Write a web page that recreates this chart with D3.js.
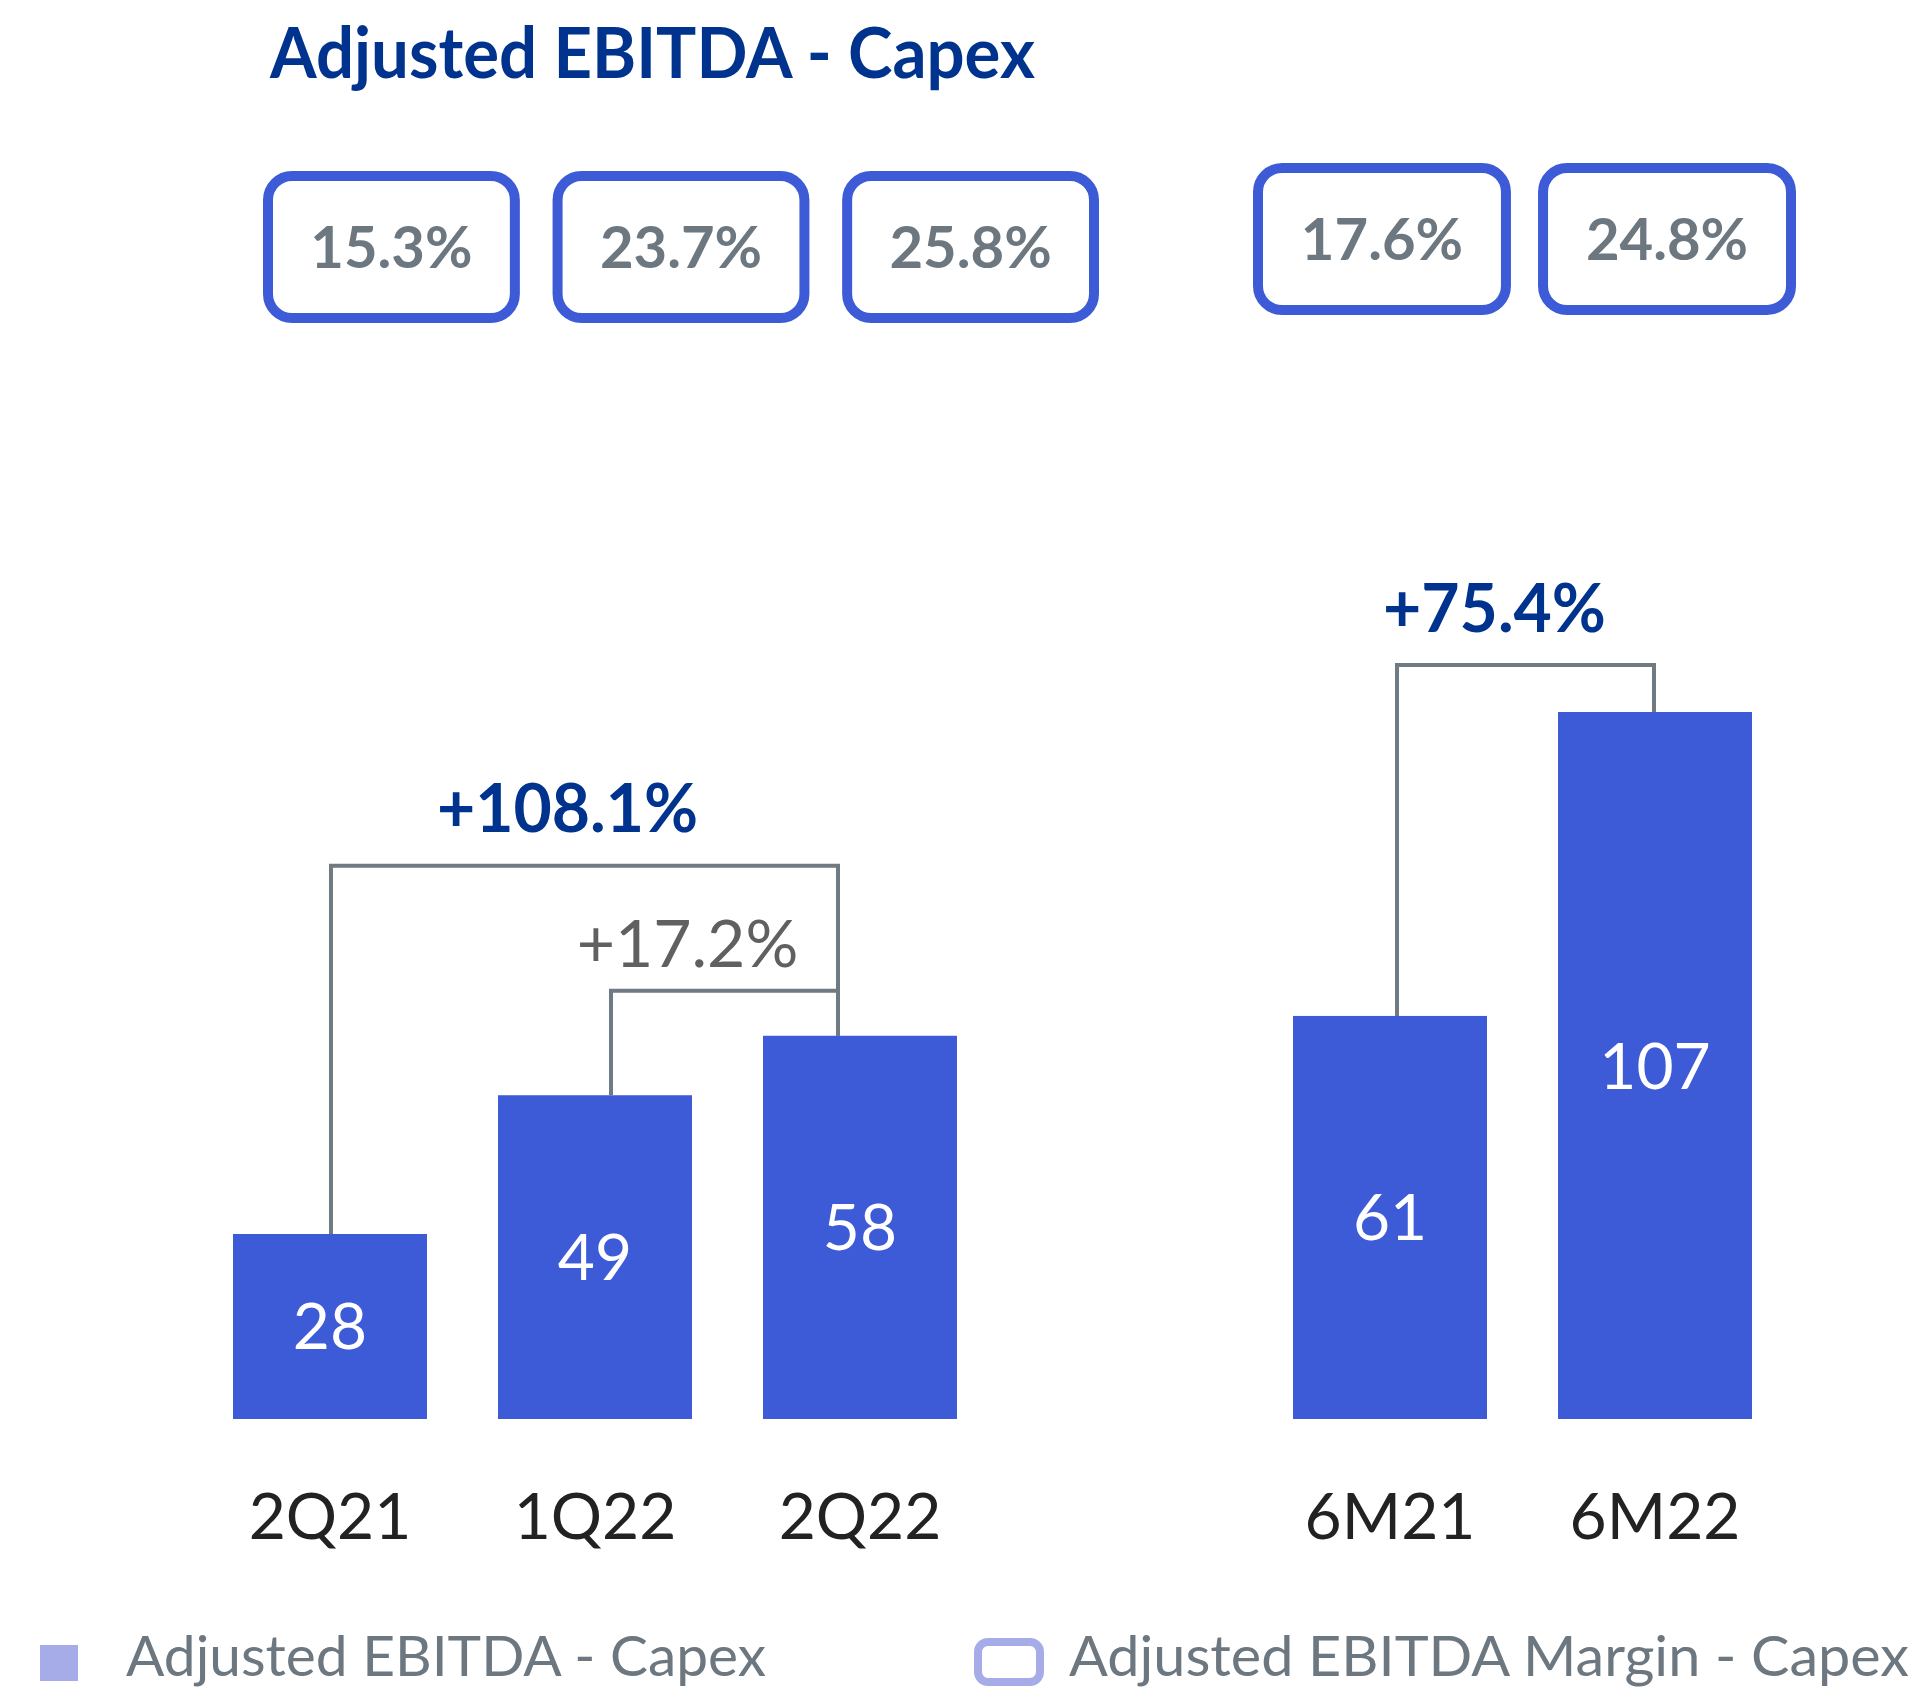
<!DOCTYPE html>
<html>
<head>
<meta charset="utf-8">
<script src="https://cdn.jsdelivr.net/npm/d3@7"></script>
<style>
  body { margin: 0; background: #fff; }
  svg { display: block; }
</style>
</head>
<body>
<div class="chart"></div>
<script>
// values
const title = 'Adjusted EBITDA - Capex';
const categories = ['2Q21', '1Q22', '2Q22', '6M21', '6M22'];
const groups = ['Q', 'Q', 'Q', '6M', '6M'];
const values = [28, 49, 58, 61, 107];
const margins = ['15.3%', '23.7%', '25.8%', '17.6%', '24.8%'];
const changeFrom = ['2Q21', '1Q22', '6M21'];
const changeTo = ['2Q22', '2Q22', '6M22'];
const changeLabels = ['+108.1%', '+17.2%', '+75.4%'];
const changeStrong = [true, false, true];
const legendLabels = ['Adjusted EBITDA - Capex', 'Adjusted EBITDA Margin - Capex'];

const width = 1921;
const height = 1689;
const barColor = '#3d5bd6';
const lightColor = '#a5ace7';
const navy = '#00338d';
const grey = '#6c7780';

const svg = d3.select('.chart')
	.append('svg')
	.attr('width', width)
	.attr('height', height)

// one blank slot between the quarter bars and the half-year bars
const x = d3.scaleBand()
	.domain(['2Q21', '1Q22', '2Q22', 'gap', '6M21', '6M22'])
	.range([233, 1752])
	.paddingInner(0.268)
	.paddingOuter(0);

const y = d3.scaleLinear()
	.domain([0, 107])
	.range([1419, 712]);

const rows = categories.map((c, i) => ({cat: c, group: groups[i], value: values[i], margin: margins[i]}));

// title
svg.append('text')
	.text(title)
	.attr('x', 270)
	.attr('y', 78)
	.attr('font-family', 'Lato')
	.attr('font-weight', 700)
	.attr('font-size', 71)
	.attr('textLength', 765)
	.attr('lengthAdjust', 'spacingAndGlyphs')
	.attr('fill', navy)

// margin boxes sit on their own row, one band scale per group
const boxScale = {
	'Q': d3.scaleBand().domain(categories.filter((c, i) => groups[i] === 'Q')).range([263, 1099]).paddingInner(0.113),
	'6M': d3.scaleBand().domain(categories.filter((c, i) => groups[i] === '6M')).range([1253, 1796]).paddingInner(0.095)
};
const boxTop = {'Q': 171, '6M': 163};
const boxH = 152;
const boxStroke = 10;

svg.selectAll('.marginBox')
	.data(rows)
	.enter()
	.append('rect')
	.attr('class', 'marginBox')
	.attr('x', d => boxScale[d.group](d.cat) + boxStroke / 2)
	.attr('y', d => boxTop[d.group] + boxStroke / 2)
	.attr('width', d => boxScale[d.group].bandwidth() - boxStroke)
	.attr('height', boxH - boxStroke)
	.attr('rx', 24)
	.attr('fill', 'white')
	.attr('stroke', barColor)
	.attr('stroke-width', boxStroke)

svg.selectAll('.marginText')
	.data(rows)
	.enter()
	.append('text')
	.attr('class', 'marginText')
	.text(d => d.margin)
	.attr('x', d => boxScale[d.group](d.cat) + boxScale[d.group].bandwidth() / 2)
	.attr('y', d => boxTop[d.group] + boxH / 2 + 21)
	.attr('text-anchor', 'middle')
	.attr('font-family', 'Lato')
	.attr('font-weight', 700)
	.attr('font-size', 58)
	.attr('fill', grey)

// bars
svg.selectAll('.bar')
	.data(rows)
	.enter()
	.append('rect')
	.attr('class', 'bar')
	.attr('x', d => x(d.cat))
	.attr('y', d => y(d.value))
	.attr('width', x.bandwidth())
	.attr('height', d => y(0) - y(d.value))
	.attr('fill', barColor)

svg.selectAll('.barValue')
	.data(rows)
	.enter()
	.append('text')
	.attr('class', 'barValue')
	.text(d => d.value)
	.attr('x', d => x(d.cat) + x.bandwidth() / 2)
	.attr('y', d => (y(d.value) + y(0)) / 2 + 23)
	.attr('text-anchor', 'middle')
	.attr('font-family', 'Lato')
	.attr('font-size', 64)
	.attr('fill', 'white')

// category labels
svg.selectAll('.catLabel')
	.data(rows)
	.enter()
	.append('text')
	.attr('class', 'catLabel')
	.text(d => d.cat)
	.attr('x', d => x(d.cat) + x.bandwidth() / 2)
	.attr('y', 1539)
	.attr('text-anchor', 'middle')
	.attr('font-family', 'Lato')
	.attr('font-size', 64)
	.attr('fill', '#222')

// growth brackets
const legShift = {'2Q21': 1, '1Q22': 16, '2Q22': -22, '6M21': 7, '6M22': -1};
const rise = [170, 45, 47];
const labelGap = [34, 24, 33];
const labelShift = [-17, -37, -31];
const valueOf = c => values[categories.indexOf(c)];
const mid = c => x(c) + x.bandwidth() / 2 + legShift[c];

const brackets = changeLabels.map((lab, i) => {
	const a = changeFrom[i], b = changeTo[i];
	const top = Math.min(y(valueOf(a)), y(valueOf(b))) - rise[i];
	return {a: a, b: b, label: lab, strong: changeStrong[i], top: top, i: i};
});

svg.selectAll('.bracket')
	.data(brackets)
	.enter()
	.append('path')
	.attr('class', 'bracket')
	.attr('d', d => 'M' + mid(d.a) + ',' + y(valueOf(d.a)) + 'V' + d.top + 'H' + mid(d.b) + 'V' + y(valueOf(d.b)))
	.attr('fill', 'none')
	.attr('stroke', '#6f7a82')
	.attr('stroke-width', 4)

svg.selectAll('.bracketLabel')
	.data(brackets)
	.enter()
	.append('text')
	.attr('class', 'bracketLabel')
	.text(d => d.label)
	.attr('x', d => (mid(d.a) + mid(d.b)) / 2 + labelShift[d.i])
	.attr('y', d => d.top - labelGap[d.i])
	.attr('text-anchor', 'middle')
	.attr('font-family', 'Lato')
	.attr('font-weight', d => d.strong ? 700 : 400)
	.attr('font-size', d => d.strong ? 66 : 66)
	.attr('fill', d => d.strong ? navy : '#606060')

// legend
svg.append('rect')
	.attr('x', 40)
	.attr('y', 1645)
	.attr('width', 38)
	.attr('height', 36)
	.attr('fill', lightColor)

svg.append('rect')
	.attr('x', 978)
	.attr('y', 1642)
	.attr('width', 62)
	.attr('height', 40)
	.attr('rx', 10)
	.attr('fill', 'white')
	.attr('stroke', lightColor)
	.attr('stroke-width', 8)

const legendX = [126, 1069];
const legendW = [640, 840];
svg.selectAll('.legendText')
	.data(legendLabels)
	.enter()
	.append('text')
	.attr('class', 'legendText')
	.text(d => d)
	.attr('x', (d, i) => legendX[i])
	.attr('y', 1676)
	.attr('font-family', 'Lato')
	.attr('font-size', 57)
	.attr('textLength', (d, i) => legendW[i])
	.attr('lengthAdjust', 'spacingAndGlyphs')
	.attr('fill', grey)
</script>
</body>
</html>
